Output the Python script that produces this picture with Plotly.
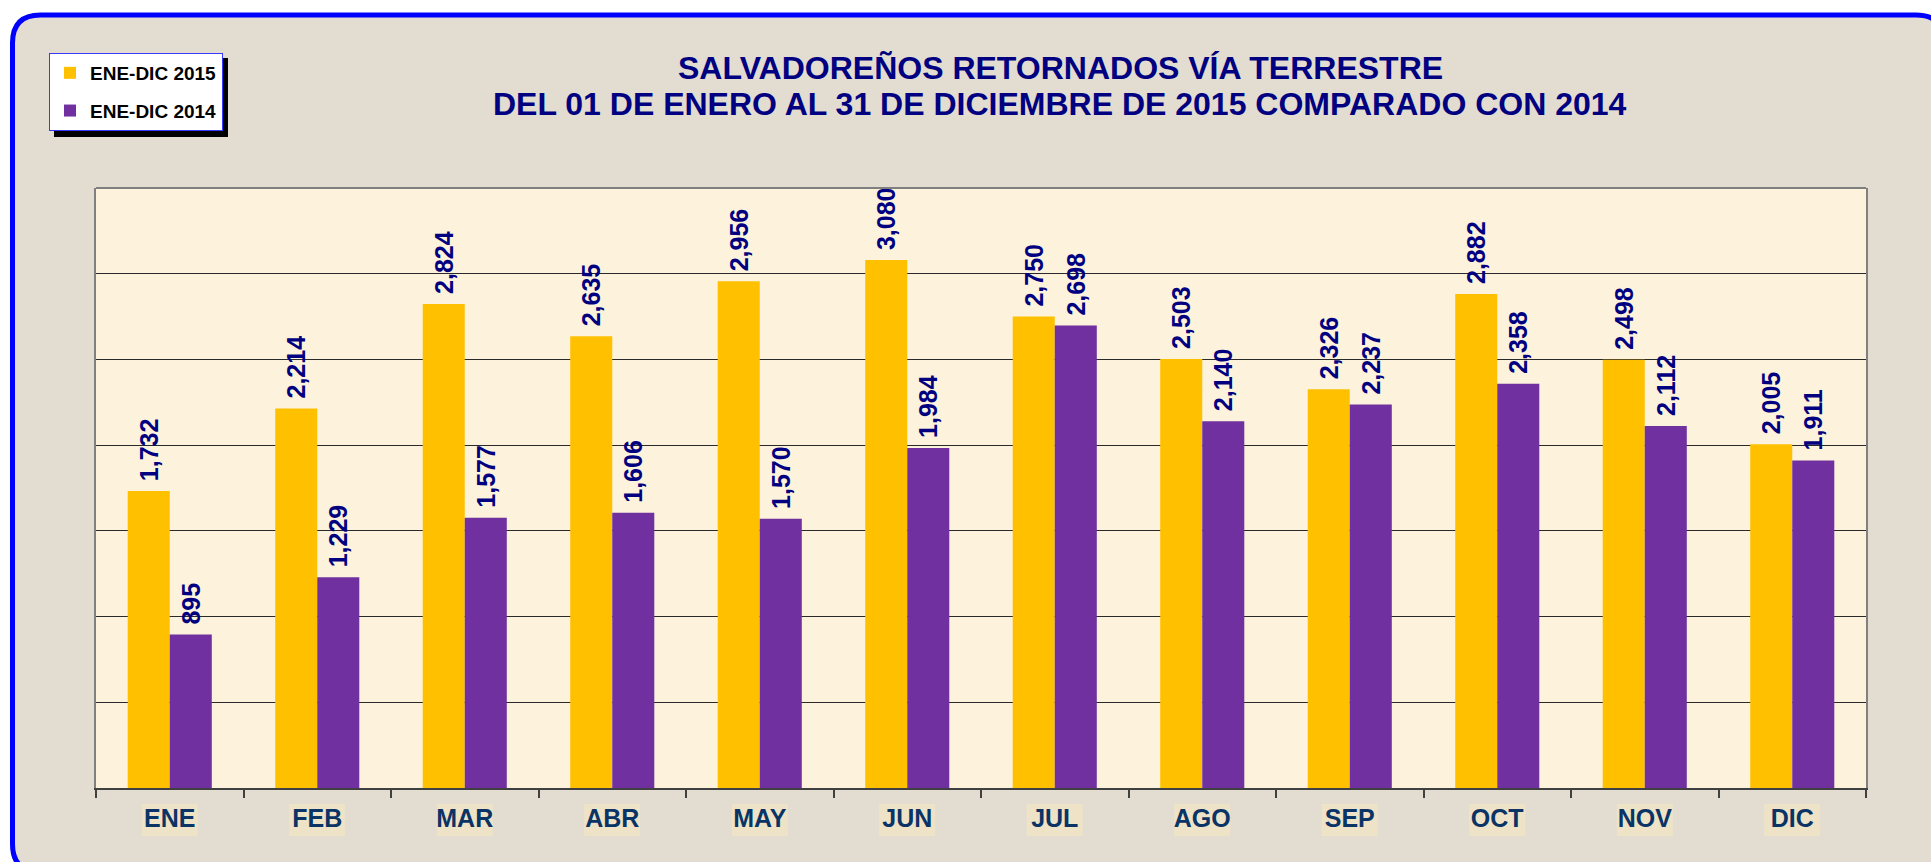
import plotly.graph_objects as go

# ---- data ----
months = ['ENE', 'FEB', 'MAR', 'ABR', 'MAY', 'JUN', 'JUL', 'AGO', 'SEP', 'OCT', 'NOV', 'DIC']
v2015 = [1732, 2214, 2824, 2635, 2956, 3080, 2750, 2503, 2326, 2882, 2498, 2005]
v2014 = [895, 1229, 1577, 1606, 1570, 1984, 2698, 2140, 2237, 2358, 2112, 1911]
name2015 = 'ENE-DIC 2015'
name2014 = 'ENE-DIC 2014'
title1 = 'SALVADOREÑOS RETORNADOS VÍA TERRESTRE'
title2 = 'DEL 01 DE ENERO AL 31 DE DICIEMBRE DE 2015 COMPARADO CON 2014'

W, H = 1931, 862
L, R, T, B = 96, 1866, 188, 788
FONT = 'Liberation Sans, Arial, sans-serif'


def px(x):
    return (x - L) / (R - L)


def py(y):
    return (B - y) / (B - T)


fig = go.Figure()
label_font = dict(family=FONT, size=25, color='#000080', weight='bold')
fig.add_trace(go.Bar(x=months, y=v2015, name=name2015, legendgroup='a',
                     marker=dict(color='#FFC000', line=dict(width=0)),
                     texttemplate='\u00a0%{y:,}', textposition='outside', textangle=-90,
                     textfont=label_font, constraintext='none', cliponaxis=False))
fig.add_trace(go.Bar(x=months, y=v2014, name=name2014, legendgroup='b',
                     marker=dict(color='#7030A0', line=dict(width=0)),
                     texttemplate='\u00a0%{y:,}', textposition='outside', textangle=-90,
                     textfont=label_font, constraintext='none', cliponaxis=False))

shapes = []
# rounded frame (right and bottom edges run just past the page)
x0, y0, x1, y1, r = 12.5, 15, 1944, 872, 28
path = (f'M{px(x0+r)},{py(y0)} L{px(x1-r)},{py(y0)} Q{px(x1)},{py(y0)} {px(x1)},{py(y0+r)} '
        f'L{px(x1)},{py(y1-r)} Q{px(x1)},{py(y1)} {px(x1-r)},{py(y1)} '
        f'L{px(x0+r)},{py(y1)} Q{px(x0)},{py(y1)} {px(x0)},{py(y1-r)} '
        f'L{px(x0)},{py(y0+r)} Q{px(x0)},{py(y0)} {px(x0+r)},{py(y0)} Z')
shapes.append(dict(type='path', path=path, xref='paper', yref='paper', layer='below',
                   fillcolor='#E2DCD1', line=dict(color='#0000FF', width=5)))
# plot background
shapes.append(dict(type='rect', xref='paper', yref='paper', x0=0, x1=1, y0=0, y1=1,
                   layer='below', fillcolor='#FDF2DB', line=dict(width=0)))
# tick label boxes
for i in range(len(months)):
    shapes.append(dict(type='rect', xref='x', yref='paper', x0=i - 0.19, x1=i + 0.19,
                       y0=py(836), y1=py(804), layer='below',
                       fillcolor='#EFE3C7', line=dict(width=0)))
# top border
shapes.append(dict(type='line', xref='paper', yref='paper', x0=0, x1=1, y0=1, y1=1,
                   line=dict(color='#808080', width=2)))
# legend shadow
shapes.append(dict(type='rect', xref='paper', yref='paper', x0=px(54), x1=px(228),
                   y0=py(137), y1=py(58), layer='above', fillcolor='#000000',
                   line=dict(width=0)))

title_font = dict(family=FONT, size=32, color='#000080', weight='bold')
annotations = [
    dict(text=title1, x=px(1060), y=py(68), xref='paper', yref='paper', showarrow=False,
         xanchor='center', yanchor='middle', font=title_font),
    dict(text=title2, x=px(1060), y=py(104), xref='paper', yref='paper', showarrow=False,
         xanchor='center', yanchor='middle', font=title_font),
]

fig.update_layout(
    width=W, height=H,
    margin=dict(l=L, r=W - R, t=T, b=H - B, pad=0),
    paper_bgcolor='#FFFFFF', plot_bgcolor='rgba(0,0,0,0)',
    barmode='group', bargap=0.43, bargroupgap=0,
    showlegend=True,
    legend=dict(x=px(49), y=py(53), xanchor='left', yanchor='top',
                bgcolor='#FFFFFF', bordercolor='#3A3AFF', borderwidth=1,
                font=dict(family=FONT, size=19, color='#000000', weight='bold'),
                traceorder='grouped', tracegroupgap=10),
    shapes=shapes, annotations=annotations,
    xaxis=dict(showline=True, linecolor='#404040', linewidth=2, ticks='outside',
               tickson='boundaries', ticklen=8, tickcolor='#404040', tickwidth=1.5,
               ticklabelstandoff=7,
               tickfont=dict(family=FONT, size=25, color='#0B3466', weight='bold'),
               showgrid=False, zeroline=False),
    yaxis=dict(range=[0, 3500], dtick=500, showticklabels=False, ticks='',
               showgrid=True, gridcolor='#2A2A2A', gridwidth=1, zeroline=False,
               showline=True, linecolor='#808080', linewidth=2, mirror=True),
)

fig.write_html('out.html')
